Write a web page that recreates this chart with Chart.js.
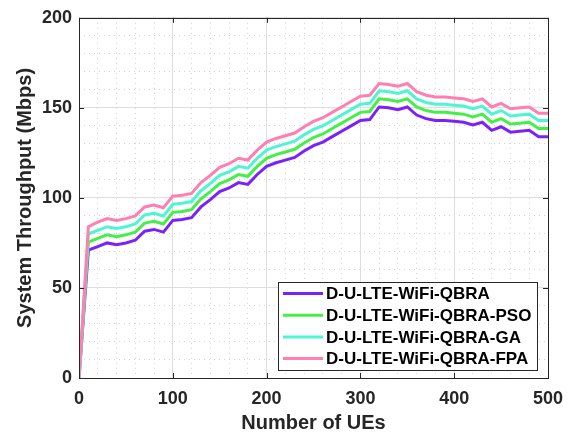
<!DOCTYPE html>
<html>
<head>
<meta charset="utf-8">
<script src="https://cdn.jsdelivr.net/npm/chart.js@4/dist/chart.umd.min.js"></script>
<style>
  html, body { margin: 0; padding: 0; background: #fff; }
  canvas { display: block; }
</style>
</head>
<body>
<canvas id="chart" width="575" height="436"></canvas>
<script>
// so lieu doc tu hinh
const ues = [0, 10, 20, 30, 40, 50, 60, 70, 80, 90, 100, 110, 120, 130, 140, 150, 160, 170, 180, 190,
  200, 210, 220, 230, 240, 250, 260, 270, 280, 290, 300, 310, 320, 330, 340, 350, 360, 370, 380, 390,
  400, 410, 420, 430, 440, 450, 460, 470, 480, 490, 500];

const qbra = [0, 71, 73, 75, 74, 75, 76.5, 81.5, 82.5, 81, 87.5, 88, 89, 95, 99, 103.5, 105.5, 108.5, 107.5, 113,
  117.5, 119.5, 121, 122.5, 126, 129, 131, 134, 137, 140, 143, 143.5, 150.5, 150, 149, 150.5, 146, 144, 143, 143,
  142.5, 142, 140.5, 142, 137.5, 139.5, 136.5, 137, 137.5, 134, 134];

const qbraPso = [0, 75.5, 77.5, 79.5, 78.5, 79.5, 81, 86, 87, 85.5, 92, 92.5, 93.5, 99.5, 103.5, 108, 110, 113, 112, 117.5,
  122, 124, 125.5, 127, 130.5, 133.5, 135.5, 138.5, 141.5, 144.5, 147.5, 148, 155, 154.5, 153.5, 155, 150.5, 148.5, 147.5, 147.5,
  147, 146.5, 145, 146.5, 142, 144, 141, 141.5, 142, 138.5, 138.5];

const qbraGa = [0, 80, 82, 84, 83, 84, 85.5, 90.5, 91.5, 90, 96.5, 97, 98, 104, 108, 112.5, 114.5, 117.5, 116.5, 122,
  126.5, 128.5, 130, 131.5, 135, 138, 140, 143, 146, 149, 152, 152.5, 159.5, 159, 158, 159.5, 155, 153, 152, 152,
  151.5, 151, 149.5, 151, 146.5, 148.5, 145.5, 146, 146.5, 143, 143];

const qbraFpa = [0, 84, 86.5, 88.5, 87.5, 88.5, 90, 95, 96, 94.5, 101, 101.5, 102.5, 108.5, 112.5, 117, 119, 122, 121, 126.5,
  131, 133, 134.5, 136, 139.5, 142.5, 144.5, 147.5, 150.5, 153.5, 156.5, 157, 163.5, 163, 162, 163.5, 159, 157, 156, 156,
  155.5, 155, 153.5, 155, 150.5, 152.5, 149.5, 150, 150.5, 147, 147];

const seriesNames = ['D-U-LTE-WiFi-QBRA', 'D-U-LTE-WiFi-QBRA-PSO', 'D-U-LTE-WiFi-QBRA-GA', 'D-U-LTE-WiFi-QBRA-FPA'];
const seriesColors = ['#7b22fb', '#45ef4a', '#4ef5d3', '#ff7fb2'];
const seriesData = [qbra, qbraPso, qbraGa, qbraFpa];

const xTicks = [0, 100, 200, 300, 400, 500];
const yTicks = [0, 50, 100, 150, 200];

const FONT = "'Liberation Sans', Arial, sans-serif";
const INK = '#262626';

// khung truc, vach chia ben trong va chu thich
const framePlugin = {
  id: 'frame',
  afterDatasetsDraw(chart) {
    const { ctx, chartArea: a, scales } = chart;
    ctx.save();
    ctx.strokeStyle = INK;
    ctx.lineWidth = 1;
    ctx.beginPath();
    scales.x.ticks.forEach(t => {
      const px = Math.round(scales.x.getPixelForValue(t.value)) + 0.5;
      ctx.moveTo(px, a.bottom); ctx.lineTo(px, a.bottom - 5);
      ctx.moveTo(px, a.top); ctx.lineTo(px, a.top + 5);
    });
    scales.y.ticks.forEach(t => {
      const py = Math.round(scales.y.getPixelForValue(t.value)) + 0.5;
      ctx.moveTo(a.left, py); ctx.lineTo(a.left + 5, py);
      ctx.moveTo(a.right, py); ctx.lineTo(a.right - 5, py);
    });
    ctx.stroke();
    ctx.strokeRect(Math.round(a.left) + 0.5, Math.round(a.top) + 0.5,
      Math.round(a.right - a.left), Math.round(a.bottom - a.top));

    // chu thich
    const box = { left: 278, top: 282, right: 537, bottom: 370 };
    ctx.fillStyle = '#fff';
    ctx.fillRect(box.left, box.top, box.right - box.left, box.bottom - box.top);
    ctx.strokeStyle = INK;
    ctx.strokeRect(box.left + 0.5, box.top + 0.5, box.right - box.left, box.bottom - box.top);
    ctx.font = 'bold 17px ' + FONT;
    ctx.textBaseline = 'middle';
    chart.data.datasets.forEach((ds, i) => {
      const y = box.top + 11.5 + i * 21.7;
      ctx.strokeStyle = ds.borderColor;
      ctx.lineWidth = 3;
      ctx.beginPath();
      ctx.moveTo(box.left + 5, y); ctx.lineTo(box.left + 45, y);
      ctx.stroke();
      ctx.fillStyle = '#000';
      ctx.fillText(ds.label, box.left + 48, y + 1);
    });
    ctx.restore();
  }
};

new Chart(document.getElementById('chart'), {
  type: 'line',
  data: {
    datasets: seriesData.map((d, i) => ({
      label: seriesNames[i],
      data: d.map((v, j) => ({ x: ues[j], y: v })),
      borderColor: seriesColors[i],
      backgroundColor: seriesColors[i],
      borderWidth: 3,
      pointRadius: 0,
      tension: 0,
      order: 4 - i
    }))
  },
  options: {
    responsive: false,
    animation: false,
    layout: { padding: { top: 16, right: 27, left: 0, bottom: 0 } },
    plugins: { legend: { display: false }, tooltip: { enabled: false } },
    scales: {
      xMinor: {
        type: 'linear', position: 'bottom', min: 0, max: 500,
        ticks: { display: false, stepSize: 20 },
        grid: { color: c => (c.tick.value % 100 === 0 ? 'rgba(0,0,0,0)' : '#d2d2d2'), drawTicks: false },
        border: { display: false, dash: [1, 4] },
        afterFit: s => { s.height = 0; }
      },
      yMinor: {
        type: 'linear', position: 'left', min: 0, max: 200,
        ticks: { display: false, stepSize: 10 },
        grid: { color: c => (c.tick.value % 50 === 0 ? 'rgba(0,0,0,0)' : '#d2d2d2'), drawTicks: false },
        border: { display: false, dash: [1, 4] },
        afterFit: s => { s.width = 0; }
      },
      x: {
        type: 'linear', position: 'bottom', min: 0, max: 500,
        afterBuildTicks: s => { s.ticks = xTicks.map(v => ({ value: v })); },
        ticks: { color: INK, padding: 10, font: { family: FONT, size: 18, weight: 'bold', lineHeight: 1.2 } },
        grid: { color: '#dedede', drawTicks: false },
        border: { display: false },
        title: { display: true, text: 'Number of UEs', color: INK, padding: { top: 0, bottom: 1 },
          font: { family: FONT, size: 20, weight: 'bold', lineHeight: 1.2 } },
        afterFit: s => { s.height = 58; }
      },
      y: {
        type: 'linear', position: 'left', min: 0, max: 200,
        afterBuildTicks: s => { s.ticks = yTicks.map(v => ({ value: v })); },
        ticks: { color: INK, padding: 7, font: { family: FONT, size: 18, weight: 'bold', lineHeight: 1.2 } },
        grid: { color: '#dedede', drawTicks: false },
        border: { display: false },
        title: { display: true, text: 'System Throughput (Mbps)', color: INK, padding: { top: 13, bottom: 0 },
          font: { family: FONT, size: 20, weight: 'bold', lineHeight: 1.2 } },
        afterFit: s => { s.width = 79; }
      }
    }
  },
  plugins: [framePlugin]
});
</script>
</body>
</html>
